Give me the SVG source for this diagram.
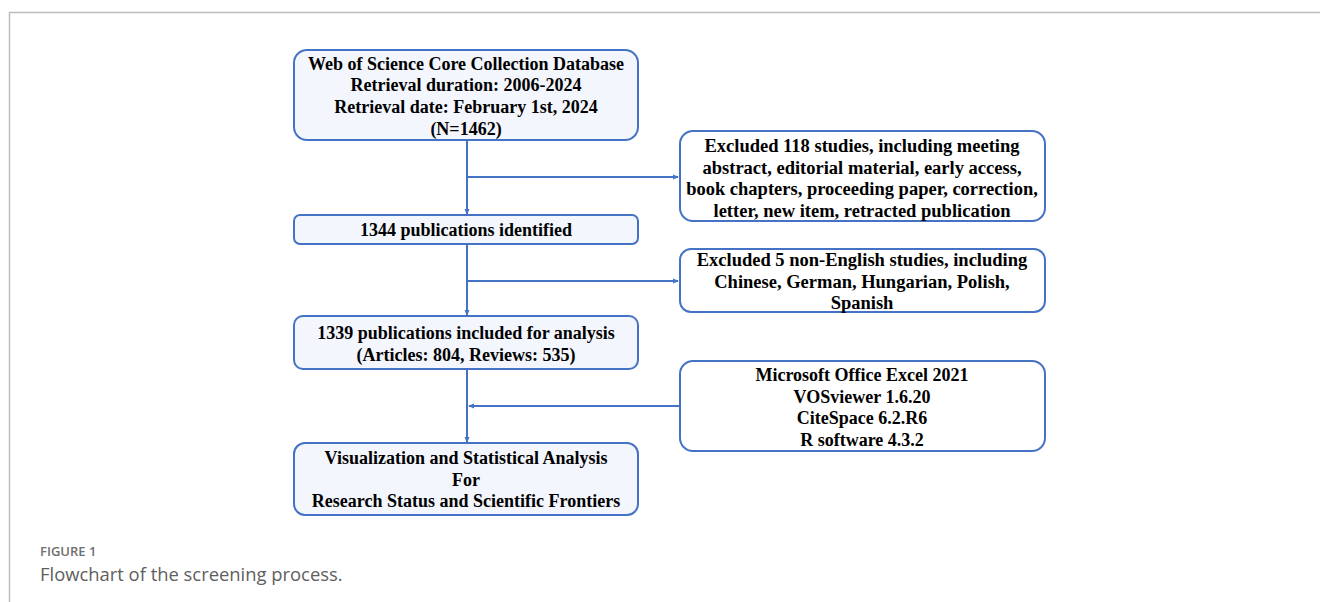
<svg xmlns="http://www.w3.org/2000/svg" width="1320" height="602" viewBox="0 0 1320 602">
<style>
.frame{fill:none;stroke:#bdbdbd;stroke-width:1.5}
.main{fill:#f3f6fd;stroke:#4472c4;stroke-width:2}
.side{fill:#ffffff;stroke:#4472c4;stroke-width:2}
.t{font-family:"Liberation Serif","Times New Roman",serif;font-weight:bold;font-size:18px;fill:#000;text-anchor:middle}
.r{font-size:18.5px}
.conn{fill:none;stroke:#4472c4;stroke-width:2}
.cap1{font-family:"Open Sans","Liberation Sans",sans-serif;font-weight:600;font-size:13px;fill:#6e6e6e}
.cap2{font-family:"Open Sans","Liberation Sans",sans-serif;font-size:18.4px;fill:#5e5e5e}
</style>
<defs>
<marker id="arr" markerWidth="6" markerHeight="6" refX="5" refY="3" orient="auto" markerUnits="userSpaceOnUse">
<path d="M0,0.5 L6,3 L0,5.5 Z" fill="#4472c4"/>
</marker>
</defs>
<rect width="1320" height="602" fill="#ffffff"/>
<path class="frame" d="M9.5,602 V12.5 H1320"/>

<g id="connectors">
<line class="conn" x1="467" y1="140" x2="467" y2="214" marker-end="url(#arr)"/>
<line class="conn" x1="467" y1="177" x2="678" y2="177" marker-end="url(#arr)"/>
<line class="conn" x1="467" y1="244" x2="467" y2="315" marker-end="url(#arr)"/>
<line class="conn" x1="467" y1="281" x2="678" y2="281" marker-end="url(#arr)"/>
<line class="conn" x1="467" y1="369" x2="467" y2="442" marker-end="url(#arr)"/>
<line class="conn" x1="680" y1="406" x2="469" y2="406" marker-end="url(#arr)"/>
</g>

<g id="n1">
<rect class="main" x="294" y="50" width="344" height="90" rx="13"/>
<text class="t" x="466" y="69.5">Web of Science Core Collection Database</text>
<text class="t" x="466" y="91">Retrieval duration: 2006-2024</text>
<text class="t" x="466" y="112.5">Retrieval date: February 1st, 2024</text>
<text class="t" x="466" y="134.5">(N=1462)</text>
</g>
<g id="n2">
<rect class="main" x="294" y="215" width="344" height="29" rx="6"/>
<text class="t" x="466" y="236">1344 publications identified</text>
</g>
<g id="n3">
<rect class="main" x="294" y="316" width="344" height="53" rx="9"/>
<text class="t" x="466" y="339">1339 publications included for analysis</text>
<text class="t" x="466" y="360.5">(Articles: 804, Reviews: 535)</text>
</g>
<g id="n4">
<rect class="main" x="294" y="443" width="344" height="72" rx="11"/>
<text class="t" x="466" y="464">Visualization and Statistical Analysis</text>
<text class="t" x="466" y="485.5">For</text>
<text class="t" x="466" y="507">Research Status and Scientific Frontiers</text>
</g>
<g id="e1">
<rect class="side" x="680" y="131" width="365" height="90" rx="13"/>
<text class="t r" x="862" y="152">Excluded 118 studies, including meeting</text>
<text class="t r" x="862" y="173.5">abstract, editorial material, early access,</text>
<text class="t r" x="862" y="195">book chapters, proceeding paper, correction,</text>
<text class="t r" x="862" y="216.5">letter, new item, retracted publication</text>
</g>
<g id="e2">
<rect class="side" x="680" y="249" width="365" height="63" rx="11"/>
<text class="t r" x="862" y="266">Excluded 5 non-English studies, including</text>
<text class="t r" x="862" y="287.5">Chinese, German, Hungarian, Polish,</text>
<text class="t r" x="862" y="309">Spanish</text>
</g>
<g id="tools">
<rect class="side" x="680" y="361" width="365" height="90" rx="13"/>
<text class="t" x="862" y="381">Microsoft Office Excel 2021</text>
<text class="t" x="862" y="402.5">VOSviewer 1.6.20</text>
<text class="t" x="862" y="424">CiteSpace 6.2.R6</text>
<text class="t" x="862" y="445.5">R software 4.3.2</text>
</g>

<text class="cap1" x="40" y="556">FIGURE 1</text>
<text class="cap2" x="40" y="581">Flowchart of the screening process.</text>
</svg>
